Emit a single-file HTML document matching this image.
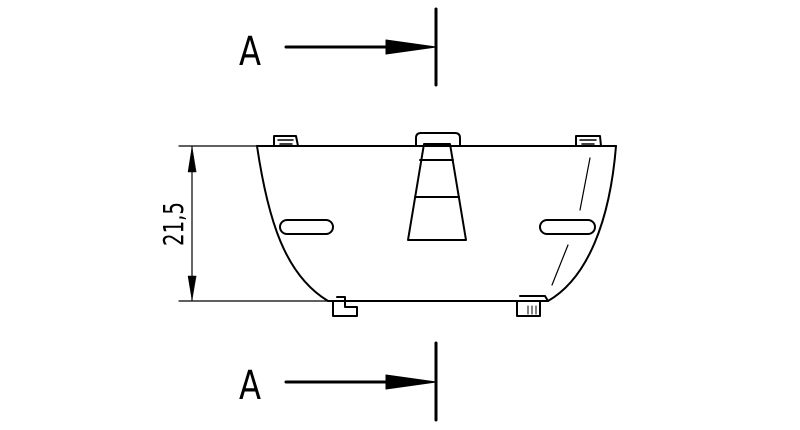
<!DOCTYPE html>
<html><head><style>
html,body{margin:0;padding:0;background:#fff;}
svg{display:block;}
text{font-family:"DejaVu Sans Condensed","Liberation Sans Narrow","Liberation Sans",sans-serif;}
</style></head><body>
<svg width="800" height="430" viewBox="0 0 800 430" xmlns="http://www.w3.org/2000/svg">
<g stroke="#000" fill="none" stroke-linecap="round" stroke-linejoin="round">
<!-- section arrows -->
<line x1="286" y1="47" x2="400" y2="47" stroke-width="3"/>
<polygon points="386,40 436,47 386,54" fill="#000" stroke-width="1"/>
<line x1="436" y1="9" x2="436" y2="85" stroke-width="3"/>
<line x1="286" y1="382" x2="400" y2="382" stroke-width="3"/>
<polygon points="386,375 436,382 386,389" fill="#000" stroke-width="1"/>
<line x1="436" y1="343" x2="436" y2="420" stroke-width="3"/>
<!-- dimension -->
<line x1="179" y1="146" x2="257" y2="146" stroke-width="1.2"/>
<line x1="179" y1="301" x2="330" y2="301" stroke-width="1.2"/>
<line x1="192" y1="147" x2="192" y2="300" stroke-width="1.2"/>
<polygon points="192,147 188,172 196,172" fill="#000" stroke-width="0.5"/>
<polygon points="192,300 188,276 196,276" fill="#000" stroke-width="0.5"/>
<!-- body -->
<line x1="257" y1="146" x2="616" y2="146" stroke-width="2"/>
<path d="M257,146 C268,220 285,275 328,301" stroke-width="2"/>
<path d="M616,146 C610,220 588,278 548,301" stroke-width="2"/>
<line x1="328" y1="301" x2="548" y2="301" stroke-width="2"/>
<path d="M590,158 L580,210" stroke-width="1.2"/>
<path d="M568,245 L552,285" stroke-width="1.2"/>
<!-- top bump -->
<path d="M416,146 L416,138 Q416,133 421,133 L455,133 Q460,133 460,138 L460,146" stroke-width="2"/>
<!-- trapezoid -->
<polygon points="424,144 450,144 466,240 408,240" stroke-width="2"/>
<line x1="420" y1="160" x2="453" y2="160" stroke-width="2"/>
<line x1="415" y1="197" x2="459" y2="197" stroke-width="2"/>
<!-- slots -->
<rect x="280" y="220" width="53" height="14" rx="7" stroke-width="2"/>
<rect x="540" y="220" width="55" height="14" rx="7" stroke-width="2"/>
<!-- clips top -->
<path d="M274,146 L274,136 L296,136 L298,146" stroke-width="2"/>
<path d="M278,140 L293,140 M280,144 L292,144" stroke-width="1.5"/>
<path d="M576,146 L576,136 L600,136 L601,146" stroke-width="2"/>
<path d="M580,140 L596,140 M582,144 L594,144" stroke-width="1.5"/>
<!-- clips bottom -->
<path d="M333,301 L333,316 L357,316 L357,307 L345,307 L345,297 L337,297" stroke-width="2"/>
<path d="M517,301 L517,316 L540,316 L540,301 L548,301 L545,296 L520,296" stroke-width="2"/>
<path d="M528,306 L528,314 M532,306 L532,314 M536,306 L536,314" stroke-width="1"/>
</g>
<text x="250" y="65" font-size="40" text-anchor="middle" fill="#000" textLength="22" lengthAdjust="spacingAndGlyphs">A</text>
<text x="250" y="399" font-size="40" text-anchor="middle" fill="#000" textLength="22" lengthAdjust="spacingAndGlyphs">A</text>
<text transform="translate(183,224) rotate(-90)" font-size="28" text-anchor="middle" fill="#000" textLength="44" lengthAdjust="spacingAndGlyphs">21,5</text>
</svg>
</body></html>
